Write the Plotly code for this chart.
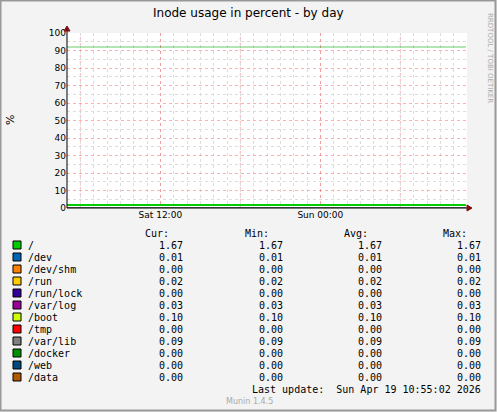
import plotly.graph_objects as go

names = ["/", "/dev", "/dev/shm", "/run", "/run/lock", "/var/log", "/boot", "/tmp", "/var/lib", "/docker", "/web", "/data"]
colors = ["#00cc00", "#0066b3", "#ff8000", "#ffcc00", "#330099", "#990099", "#ccff00", "#ff0000", "#808080", "#008f00", "#00487d", "#b35a00"]
cur = [1.67, 0.01, 0.00, 0.02, 0.00, 0.03, 0.10, 0.00, 0.09, 0.00, 0.00, 0.00]
mn = cur[:]
avg = cur[:]
mx = cur[:]
t_start, t_end = "2026-04-18 05:00", "2026-04-19 11:00"
t_data = ["2026-04-18 05:00", "2026-04-19 10:55"]
warning = 92

L, R, T, B = 67, 467, 33, 208
W, H = 497, 412
def xp(px): return (px - L) / (R - L)
def yp(py): return (B - py) / (B - T)

fig = go.Figure()
for n, c, v in zip(reversed(names), reversed(colors), reversed(cur)):
    fig.add_trace(go.Scatter(x=t_data, y=[v, v], mode="lines", line=dict(color=c, width=2 if n == "/" else 1), showlegend=False, hoverinfo="skip"))
fig.add_trace(go.Scatter(x=t_data, y=[warning, warning], mode="lines", line=dict(color="#00aa00", width=1), opacity=0.6, showlegend=False))

mono = "DejaVu Sans Mono"
ann = []
shapes = []
def A(text, px, py, xanchor="center", size=10, color="#000", family=mono, angle=0):
    ann.append(dict(text=text, x=xp(px), y=yp(py), xref="paper", yref="paper", xanchor=xanchor, yanchor="middle",
                    showarrow=False, textangle=angle, font=dict(family=family, size=size, color=color)))

A("Inode usage in percent - by day", 248, 13, size=12, family="DejaVu Sans")
A("%", 10, 120, size=11, family="DejaVu Sans", angle=-90)
A("RRDTOOL / TOBI OETIKER", 490, 58, size=7, color="#aaa", family="DejaVu Sans", angle=90)
for hx, h in zip([171, 271, 370, 469], ["Cur:", "Min:", "Avg:", "Max:"]):
    A(h, hx, 233, xanchor="right")
for i, (n, c) in enumerate(zip(names, colors)):
    py = 245 + 12 * i
    shapes.append(dict(type="rect", xref="paper", yref="paper", x0=xp(13), x1=xp(21), y0=yp(py + 4), y1=yp(py - 4), fillcolor=c, line=dict(color="#000", width=1)))
    A(n, 26, py, xanchor="left")
    for cx, arr in zip([185, 285, 384, 483], [cur, mn, avg, mx]):
        A(f"{arr[i]:.2f}", cx, py, xanchor="right")
A("Last update:  Sun Apr 19 10:55:02 2026", 483, 389, xanchor="right")
A("Munin 1.4.5", 249, 401, size=8, color="#aaa", family="DejaVu Sans")

shapes.append(dict(type="line", xref="paper", yref="paper", x0=0, x1=xp(471), y0=0, y1=0, line=dict(color="#000", width=1)))
shapes.append(dict(type="line", xref="paper", yref="paper", x0=0, x1=0, y0=0, y1=yp(29), line=dict(color="#000", width=1)))
shapes.append(dict(type="path", xref="paper", yref="paper", path=f"M {xp(467)},{yp(205)} L {xp(472)},{yp(208)} L {xp(467)},{yp(211)} Z", fillcolor="#7f1010", line=dict(color="#7f1010", width=1)))
shapes.append(dict(type="path", xref="paper", yref="paper", path=f"M {xp(64)},{yp(31)} L {xp(67)},{yp(26)} L {xp(70)},{yp(31)} Z", fillcolor="#7f1010", line=dict(color="#7f1010", width=1)))
shapes.append(dict(type="rect", xref="paper", yref="paper", x0=xp(0.5), x1=xp(W - 1.5), y0=yp(0.5), y1=yp(H - 1.5), line=dict(color="#999", width=2), layer="below"))

fig.update_layout(
    width=W, height=H, margin=dict(l=L, r=W - R, t=T, b=H - B),
    paper_bgcolor="#f3f3f3", plot_bgcolor="#ffffff",
    annotations=ann, shapes=shapes, showlegend=False,
    xaxis=dict(type="date", range=[t_start, t_end], tickvals=["2026-04-18 12:00", "2026-04-19 00:00"], ticktext=["Sat 12:00", "Sun 00:00"],
               showgrid=True, gridcolor="rgba(255,100,100,0.5)", griddash="dot", gridwidth=1,
               minor=dict(dtick=3600000, showgrid=True, gridcolor="#dddddd", griddash="dot"),
               tickfont=dict(family="DejaVu Sans", size=9, color="#000"), zeroline=False, showline=False, fixedrange=True),
    yaxis=dict(range=[0, 100], dtick=10, showgrid=True, gridcolor="rgba(255,100,100,0.5)", griddash="dot",
               minor=dict(dtick=5, showgrid=True, gridcolor="#dddddd", griddash="dot"),
               tickfont=dict(family="DejaVu Sans", size=9, color="#000"), zeroline=False, showline=False, fixedrange=True),
)
for tv in ["2026-04-18 06:00", "2026-04-18 18:00", "2026-04-19 06:00"]:
    fig.add_shape(type="line", x0=tv, x1=tv, yref="paper", y0=0, y1=1, line=dict(color="rgba(255,100,100,0.5)", width=1, dash="dot"), layer="below")
fig.write_html("out.html", config={"displayModeBar": False},
               post_script="document.body.style.margin='0';document.body.style.overflow='hidden';")
